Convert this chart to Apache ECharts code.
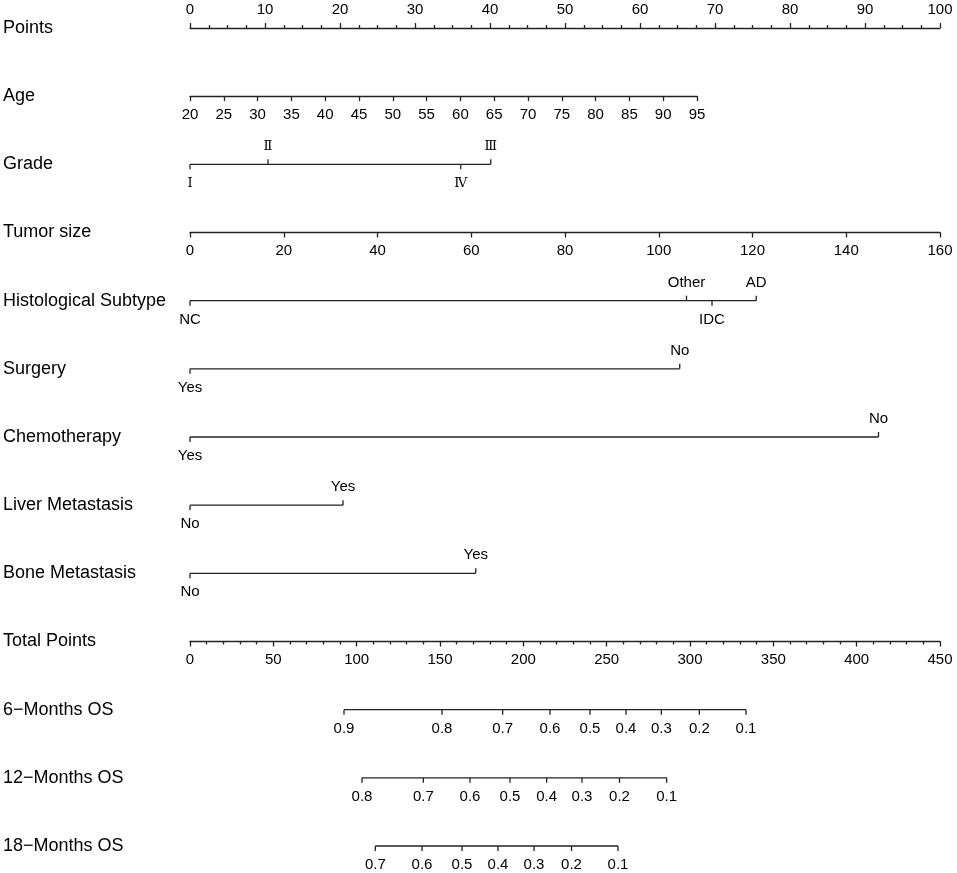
<!DOCTYPE html>
<html>
<head>
<meta charset="utf-8">
<script src="https://cdn.jsdelivr.net/npm/echarts@6/dist/echarts.min.js"></script>
<style>
  html, body { margin: 0; padding: 0; background: #fff; }
  #chart { width: 957px; height: 873px; }
</style>
</head>
<body>
<div id="chart"></div>
<script>
// row names (top to bottom)
const rowNames = ['Points', 'Age', 'Grade', 'Tumor size', 'Histological Subtype', 'Surgery',
  'Chemotherapy', 'Liver Metastasis', 'Bone Metastasis', 'Total Points',
  '6\u2212Months OS', '12\u2212Months OS', '18\u2212Months OS'];

// continuous scales
const pointsRange = [0, 100];
const ageRange = [20, 95];
const ageMaxPoints = 67.6;      // points reached at age 95
const tumorRange = [0, 160];
const totalRange = [0, 450];

// categorical predictors: level -> points
const gradeLevels = ['\u2160', '\u2161', '\u2162', '\u2163'];
const gradePoints = [0, 10.4, 40.1, 36.1];
const histLevels = ['NC', 'Other', 'IDC', 'AD'];
const histPoints = [0, 66.2, 69.6, 75.5];
const surgeryLevels = ['Yes', 'No'];
const surgeryPoints = [0, 65.3];
const chemoLevels = ['Yes', 'No'];
const chemoPoints = [0, 91.8];
const liverLevels = ['No', 'Yes'];
const liverPoints = [0, 20.4];
const boneLevels = ['No', 'Yes'];
const bonePoints = [0, 38.1];

// survival probability -> total points
const os6Probs = ['0.9', '0.8', '0.7', '0.6', '0.5', '0.4', '0.3', '0.2', '0.1'];
const os6Total = [92.4, 151.2, 187.6, 216, 240, 261.6, 282.8, 305.6, 333.6];
const os12Probs = ['0.8', '0.7', '0.6', '0.5', '0.4', '0.3', '0.2', '0.1'];
const os12Total = [103.2, 140, 168, 192, 214, 235.2, 257.7, 286];
const os18Probs = ['0.7', '0.6', '0.5', '0.4', '0.3', '0.2', '0.1'];
const os18Total = [111.2, 139.2, 163.2, 184.8, 206.4, 228.9, 256.8];

const LINE = '#222';
const LW = 1.3;
const FONT = "'Liberation Sans', Arial, sans-serif";
const GL = 190, GW = 750, GT = 28, GH = 818;
const rowY = i => GT + i * GH / (rowNames.length - 1);

// build segment + tick data; labels alternate below/above in order of points
function buildRows(defs) {
  const segs = [], ticks = [];
  defs.forEach(d => {
    const order = d.values.map((v, i) => i).sort((a, b) => d.values[a] - d.values[b]);
    segs.push([Math.min(...d.values), d.row, Math.max(...d.values)]);
    order.forEach((idx, k) => {
      ticks.push({ value: [d.values[idx], d.row], label: d.labels[idx],
        up: d.alternate ? k % 2 === 1 : false, serif: !!d.serif });
    });
  });
  return { segs, ticks };
}

const cat = buildRows([
  { row: 2, labels: gradeLevels, values: gradePoints, alternate: true, serif: true },
  { row: 4, labels: histLevels, values: histPoints, alternate: true },
  { row: 5, labels: surgeryLevels, values: surgeryPoints, alternate: true },
  { row: 6, labels: chemoLevels, values: chemoPoints, alternate: true },
  { row: 7, labels: liverLevels, values: liverPoints, alternate: true },
  { row: 8, labels: boneLevels, values: bonePoints, alternate: true }
]);
const os = buildRows([
  { row: 10, labels: os6Probs, values: os6Total, alternate: false },
  { row: 11, labels: os12Probs, values: os12Total, alternate: false },
  { row: 12, labels: os18Probs, values: os18Total, alternate: false }
]);

function renderSeg(params, api) {
  const a = api.coord([api.value(0), api.value(1)]);
  const b = api.coord([api.value(2), api.value(1)]);
  return { type: 'line', shape: { x1: a[0], y1: a[1], x2: b[0], y2: b[1] },
    style: { stroke: LINE, lineWidth: LW } };
}

function tickRenderer(list) {
  return function (params, api) {
    const t = list[params.dataIndex];
    const p = api.coord([api.value(0), api.value(1)]);
    const dir = t.up ? -1 : 1;
    return {
      type: 'group',
      children: [
        { type: 'line', shape: { x1: p[0], y1: p[1], x2: p[0], y2: p[1] + dir * 5 },
          style: { stroke: LINE, lineWidth: LW } },
        { type: 'text', style: {
            text: t.label, x: p[0], y: p[1] + (t.up ? -18 : 19),
            align: 'center', verticalAlign: 'middle', fill: '#000',
            font: t.serif ? "13px 'DejaVu Serif', serif" : '15px ' + FONT } }
      ]
    };
  };
}

// one thin grid per continuous axis
function axisGrid(row, width) {
  return { left: GL, top: rowY(row), width: width, height: 0 };
}
function contAxis(gridIndex, range, interval, position, minorSplit) {
  return {
    type: 'value', gridIndex, min: range[0], max: range[1], interval, position,
    axisLine: { show: true, onZero: false, lineStyle: { color: LINE, width: LW } },
    axisTick: { show: true, length: 5, lineStyle: { color: LINE, width: LW } },
    minorTick: { show: !!minorSplit, splitNumber: minorSplit || 5, length: 3,
      lineStyle: { color: LINE, width: LW } },
    axisLabel: { show: true, margin: 11, fontSize: 15, fontFamily: FONT, color: '#000',
      showMinLabel: true, showMaxLabel: true },
    splitLine: { show: false }
  };
}
function hiddenY(gridIndex) {
  return { type: 'value', gridIndex, min: 0, max: 1, show: false };
}

const chart = echarts.init(document.getElementById('chart'));
chart.setOption({
  animation: false,
  backgroundColor: '#fff',
  grid: [
    { left: GL, top: GT, width: GW, height: GH },
    axisGrid(0, GW),
    axisGrid(1, GW * ageMaxPoints / 100),
    axisGrid(3, GW),
    axisGrid(9, GW)
  ],
  xAxis: [
    { type: 'value', gridIndex: 0, min: pointsRange[0], max: pointsRange[1], show: false },
    { type: 'value', gridIndex: 0, min: totalRange[0], max: totalRange[1], show: false },
    contAxis(1, pointsRange, 10, 'top', 4),
    contAxis(2, ageRange, 5, 'bottom'),
    contAxis(3, tumorRange, 20, 'bottom'),
    contAxis(4, totalRange, 50, 'bottom', 5)
  ],
  yAxis: [
    { type: 'category', gridIndex: 0, data: rowNames, inverse: true, boundaryGap: false,
      axisLine: { show: false }, axisTick: { show: false }, splitLine: { show: false },
      axisLabel: { align: 'left', margin: GL - 3, fontSize: 18, fontFamily: FONT, color: '#000' } },
    hiddenY(1), hiddenY(2), hiddenY(3), hiddenY(4)
  ],
  series: [
    { type: 'custom', xAxisIndex: 0, yAxisIndex: 0, clip: false, silent: true,
      encode: { x: [0, 2], y: 1 }, data: cat.segs, renderItem: renderSeg },
    { type: 'custom', xAxisIndex: 0, yAxisIndex: 0, clip: false, silent: true,
      encode: { x: 0, y: 1 }, data: cat.ticks.map(t => t.value), renderItem: tickRenderer(cat.ticks) },
    { type: 'custom', xAxisIndex: 1, yAxisIndex: 0, clip: false, silent: true,
      encode: { x: [0, 2], y: 1 }, data: os.segs, renderItem: renderSeg },
    { type: 'custom', xAxisIndex: 1, yAxisIndex: 0, clip: false, silent: true,
      encode: { x: 0, y: 1 }, data: os.ticks.map(t => t.value), renderItem: tickRenderer(os.ticks) }
  ]
});
</script>
</body>
</html>
